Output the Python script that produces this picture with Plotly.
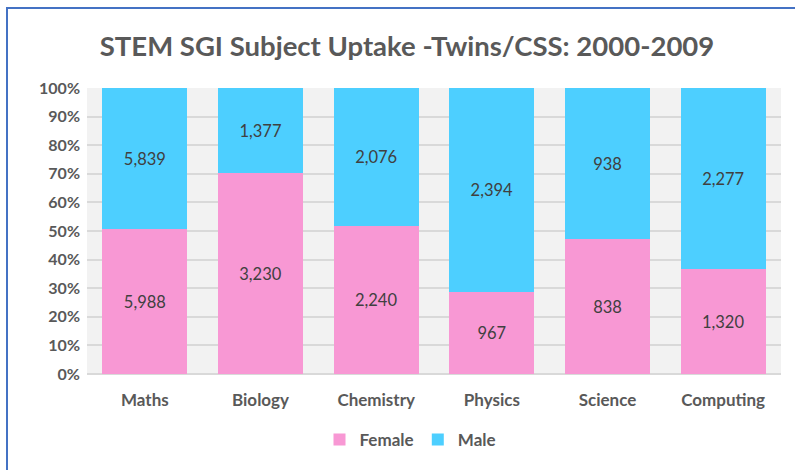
import plotly.graph_objects as go

categories = ["Maths", "Biology", "Chemistry", "Physics", "Science", "Computing"]
female = [5988, 3230, 2240, 967, 838, 1320]
male = [5839, 1377, 2076, 2394, 938, 2277]
y_ticks = list(range(0, 101, 10))
y_tick_labels = [f"{v}%" for v in y_ticks]

FONT = "Lato, Open Sans, sans-serif"
L, R, T, B = 87, 14, 88, 96
W, H = 795, 470
pw, ph = W - L - R, H - T - B

fig = go.Figure()
for name, vals, color in [("Female", female, "#F898D4"), ("Male", male, "#4DCFFF")]:
    fig.add_trace(go.Bar(
        x=categories, y=vals, name=name, marker=dict(color=color, line=dict(width=0)),
        text=[f"{v:,}" for v in vals], textposition="inside", insidetextanchor="middle",
        textfont=dict(family=FONT, size=16.5, color="#404040"), textangle=0,
        hoverinfo="skip",
    ))

fig.update_layout(
    width=W, height=H, barmode="stack", barnorm="percent", bargap=0.265,
    margin=dict(l=L, r=R, t=T, b=B),
    paper_bgcolor="white", plot_bgcolor="#F2F2F2",
    title=dict(text="<b>STEM SGI Subject Uptake -Twins/CSS: 2000-2009</b>",
               x=407 / W, xanchor="center", y=1 - 46 / H, yanchor="middle",
               font=dict(family=FONT, size=27.5, color="#595959")),
    legend=dict(orientation="h", x=(410 - L) / pw, xanchor="center", y=(374 - 440) / ph, yanchor="middle",
                font=dict(family=FONT, size=17, color="#595959"), traceorder="normal",
                itemwidth=30, bgcolor="rgba(0,0,0,0)"),
)
fig.update_xaxes(tickfont=dict(family=FONT, size=17, color="#595959"), showgrid=False,
                 ticks="", showline=False, tickprefix="<b>", ticksuffix="</b>", ticklabelstandoff=14)
fig.update_yaxes(range=[0, 100], tickvals=y_ticks, ticktext=[f"<b>{t}</b>" for t in y_tick_labels],
                 tickfont=dict(family=FONT, size=16, color="#595959"),
                 showgrid=True, gridcolor="#D9D9D9", gridwidth=2, zeroline=True,
                 zerolinecolor="#D9D9D9", zerolinewidth=2, ticks="", ticklabelstandoff=6)
fig.add_shape(type="rect", xref="paper", yref="paper",
              x0=(7 - L) / pw, x1=(W + 20 - L) / pw, y0=(H - B - (H + 20)) / ph, y1=(H - B - 8) / ph,
              line=dict(color="#4472C4", width=2), fillcolor="rgba(0,0,0,0)", layer="above")
fig.write_html("out.html", config={"displayModeBar": False},
               post_script="document.body.style.margin='0';"
               "document.querySelectorAll('.legendtext').forEach(function(e){e.style.fontWeight='bold';});")
